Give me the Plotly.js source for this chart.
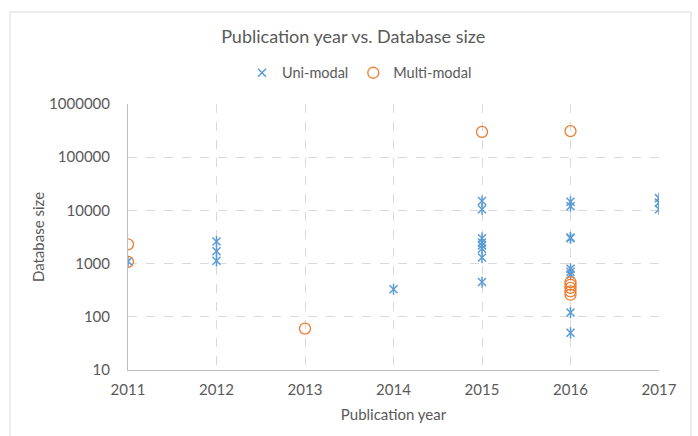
<!DOCTYPE html>
<html>
<head>
<meta charset="utf-8">
<script src="https://cdn.plot.ly/plotly-3.0.1.min.js"></script>
<style>html,body{margin:0;padding:0;background:#fff;}#chart{width:698px;height:436px;}</style>
</head>
<body>
<div id="chart"></div>
<script>
// Data
const uniYears = [2011, 2012, 2012, 2012, 2014,
  2015, 2015, 2015, 2015, 2015, 2015, 2015, 2015,
  2016, 2016, 2016, 2016, 2016, 2016, 2016, 2016, 2016,
  2017, 2017, 2017];
const uniSizes = [1100, 2600, 1700, 1130, 330,
  15000, 10500, 3000, 2500, 2200, 1900, 1300, 450,
  14500, 12000, 3100, 3000, 800, 700, 620, 120, 50,
  17000, 14000, 10500];
const multiYears = [2011, 2011, 2013, 2015, 2016, 2016, 2016, 2016, 2016, 2016];
const multiSizes = [2300, 1080, 60, 300000, 310000, 450, 400, 350, 300, 260];
const yTickVals = [10, 100, 1000, 10000, 100000, 1000000];
const yTickText = ['10', '100', '1000', '10000', '100000', '1000000'];
const xTickVals = [2011, 2012, 2013, 2014, 2015, 2016, 2017];

const blue = '#5B9BD5', orange = '#ED7D31', txt = '#595959';
const font = 'Lato, "Open Sans", sans-serif';

const traces = [
  {x: uniYears, y: uniSizes, type: 'scatter', mode: 'markers', name: 'Uni-modal',
   legendgroup: 'uni',
   marker: {symbol: 'x-thin-open', size: 8, color: blue, line: {color: blue, width: 1.5}}},
  {x: uniYears, y: uniSizes, type: 'scatter', mode: 'markers', name: 'Uni-modal',
   legendgroup: 'uni', showlegend: false, hoverinfo: 'skip',
   marker: {symbol: 'line-ns-open', size: 8, color: blue, line: {color: blue, width: 1.5}}},
  {x: multiYears, y: multiSizes, type: 'scatter', mode: 'markers', name: 'Multi-modal',
   marker: {symbol: 'circle-open', size: 11, color: orange, line: {color: orange, width: 1.3}}}
];

const layout = {
  width: 698, height: 436,
  margin: {l: 128, r: 39, t: 104, b: 66},
  paper_bgcolor: '#fff', plot_bgcolor: '#fff',
  font: {family: font, color: txt, size: 15},
  title: {text: 'Publication year vs. Database size', font: {family: font, size: 18, color: txt},
          x: 0.506, xref: 'container', y: 0.915, yref: 'container', yanchor: 'middle'},
  showlegend: true,
  legend: {orientation: 'h', x: 0.515, xref: 'container', xanchor: 'center',
           y: 0.833, yref: 'container', yanchor: 'middle',
           font: {family: font, size: 14.5, color: txt}, itemwidth: 30, tracegroupgap: 0},
  xaxis: {
    range: [2011, 2017], tickvals: xTickVals, ticktext: xTickVals.map(String),
    showgrid: true, gridcolor: '#d9d9d9', griddash: 'dash', gridwidth: 1,
    showline: true, linecolor: '#bfbfbf', linewidth: 1, zeroline: false,
    ticks: '', ticklabelstandoff: 6, tickfont: {family: font, size: 15, color: txt},
    title: {text: 'Publication year', font: {family: font, size: 15, color: txt}, standoff: 12}
  },
  yaxis: {
    type: 'log', range: [1, 6], tickvals: yTickVals, ticktext: yTickText,
    showgrid: true, gridcolor: '#d9d9d9', griddash: 'dash', gridwidth: 1,
    showline: true, linecolor: '#bfbfbf', linewidth: 1, zeroline: false,
    ticks: '', ticklabelstandoff: 14, tickfont: {family: font, size: 15, color: txt},
    title: {text: 'Database size', font: {family: font, size: 15, color: txt}, standoff: 0}
  },
  shapes: [
    {type: 'rect', xref: 'paper', yref: 'paper', layer: 'below',
     x0: (10 - 128) / 531, x1: (691 - 128) / 531, y0: (370 - 445) / 266, y1: (370 - 12) / 266,
     line: {color: '#d9d9d9', width: 1}, fillcolor: 'rgba(0,0,0,0)'}
  ]
};

Plotly.newPlot('chart', traces, layout, {displayModeBar: false, staticPlot: true});
</script>
</body>
</html>
